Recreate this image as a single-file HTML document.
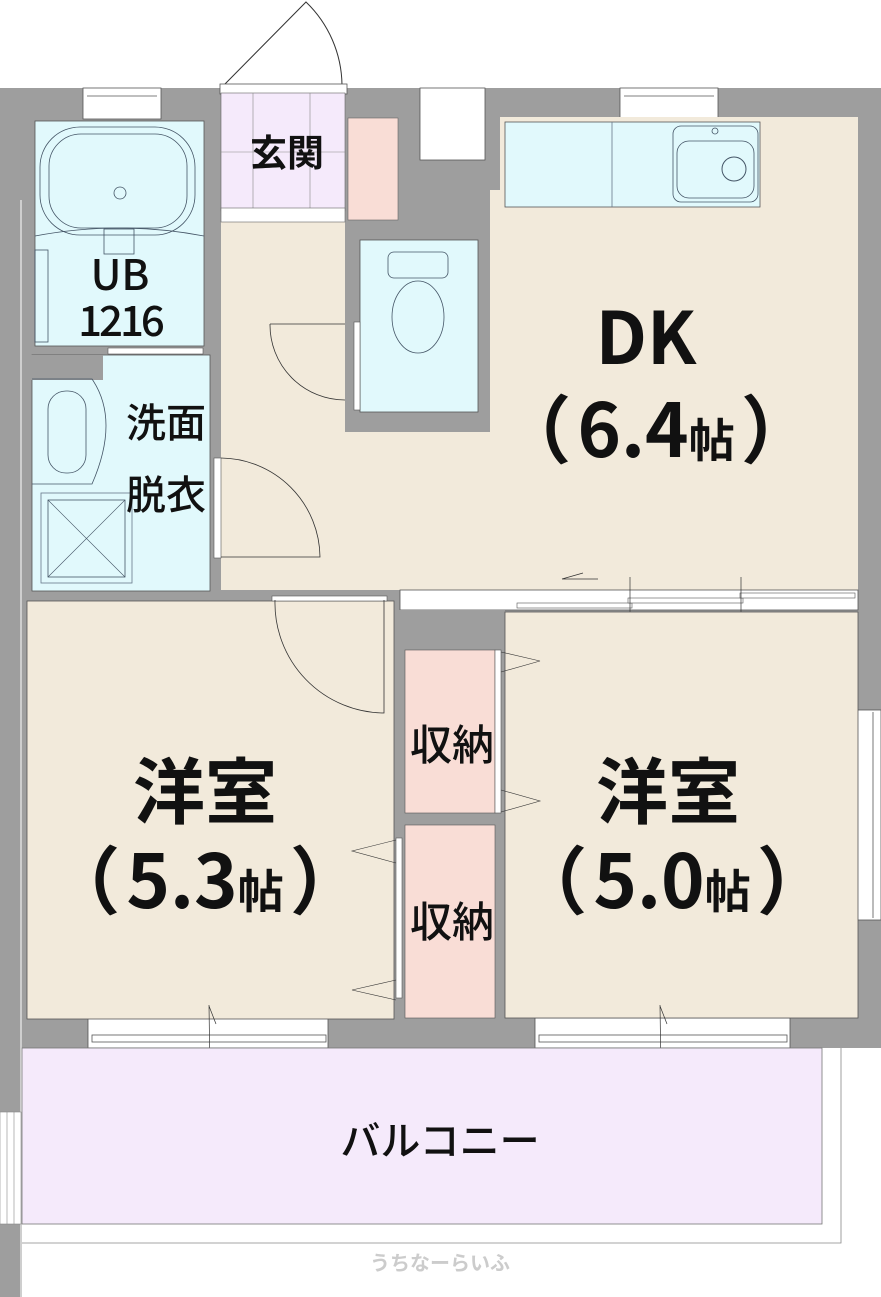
<!DOCTYPE html>
<html><head><meta charset="utf-8"><style>
html,body{margin:0;padding:0;background:#fff;}
svg{display:block;}
text{font-family:"Liberation Sans","Noto Sans CJK JP",sans-serif;fill:#111;}
.j{font-family:"Noto Sans CJK JP",sans-serif;}
</style></head><body>
<svg width="881" height="1297" viewBox="0 0 881 1297" xmlns="http://www.w3.org/2000/svg">
<rect x="0" y="88" width="881" height="960" fill="#9e9e9e"/>
<rect x="0" y="1048" width="22" height="249" fill="#9e9e9e"/>
<line x1="21" y1="200" x2="21" y2="1297" stroke="#fff" stroke-width="1"/>
<rect x="83" y="88" width="78" height="31" fill="#fff" stroke="#555" stroke-width="0.8"/>
<line x1="87" y1="96" x2="157" y2="96" stroke="#555" stroke-width="0.8"/>
<rect x="420" y="88" width="65" height="72" fill="#fff" stroke="#555" stroke-width="0.8"/>
<rect x="620" y="88" width="98" height="32" fill="#fff" stroke="#555" stroke-width="0.8"/>
<line x1="624" y1="96" x2="714" y2="96" stroke="#555" stroke-width="0.8"/>
<rect x="857" y="710" width="24" height="210" fill="#fff" stroke="#555" stroke-width="0.8"/>
<line x1="873" y1="712" x2="873" y2="918" stroke="#555" stroke-width="0.8"/>
<rect x="88" y="1018" width="240" height="30" fill="#fff" stroke="#555" stroke-width="0.8"/>
<rect x="92" y="1035" width="234" height="7" fill="#fff" stroke="#555" stroke-width="0.8"/>
<rect x="535" y="1018" width="255" height="30" fill="#fff" stroke="#555" stroke-width="0.8"/>
<rect x="539" y="1035" width="248" height="7" fill="#fff" stroke="#555" stroke-width="0.8"/>
<path d="M224 85 L306 2 A117 117 0 0 1 342 85" fill="none" stroke="#333" stroke-width="1"/>
<rect x="220" y="84" width="127" height="10" fill="#fff" stroke="#555" stroke-width="0.8"/>
<path d="M500 117 L858 117 L858 590 L221 590 L221 222 L345 222 L345 432 L490 432 L490 190 L500 190 Z" fill="#f2eadb"/>
<rect x="360" y="240" width="118" height="172" fill="#e1f9fc" stroke="#555" stroke-width="0.8"/>
<rect x="388" y="252" width="60" height="26" rx="6" fill="none" stroke="#456" stroke-width="0.8"/>
<ellipse cx="418" cy="317" rx="26" ry="36" fill="none" stroke="#456" stroke-width="0.8"/>
<rect x="354" y="322" width="6" height="88" fill="#fff" stroke="#555" stroke-width="0.6"/>
<path d="M270 324 L345 324 M270 324 A75 75 0 0 0 345 400" fill="none" stroke="#333" stroke-width="0.8"/>
<rect x="221" y="93" width="124" height="118" fill="#f5eafb" stroke="#666" stroke-width="0.6"/>
<line x1="253" y1="93" x2="253" y2="208" stroke="#888" stroke-width="0.6"/>
<line x1="310" y1="93" x2="310" y2="208" stroke="#888" stroke-width="0.6"/>
<line x1="221" y1="152" x2="345" y2="152" stroke="#888" stroke-width="0.6"/>
<rect x="221" y="208" width="124" height="14" fill="#fff" stroke="#666" stroke-width="0.6"/>
<rect x="348" y="118" width="50" height="102" fill="#f9ddd6" stroke="#666" stroke-width="0.6"/>
<rect x="505" y="122" width="255" height="85" fill="#e1f9fc" stroke="#555" stroke-width="0.8"/>
<line x1="612" y1="122" x2="612" y2="207" stroke="#678" stroke-width="0.8"/>
<rect x="673" y="126" width="85" height="76" rx="8" fill="none" stroke="#456" stroke-width="0.8"/>
<rect x="677" y="141" width="77" height="57" rx="12" fill="none" stroke="#456" stroke-width="0.8"/>
<circle cx="734" cy="169" r="12" fill="none" stroke="#456" stroke-width="1"/>
<circle cx="715" cy="131" r="3" fill="none" stroke="#456" stroke-width="0.8"/>
<rect x="35" y="121" width="169" height="225" fill="#e1f9fc" stroke="#555" stroke-width="0.8"/>
<rect x="40" y="127" width="155" height="108" rx="40" fill="none" stroke="#456" stroke-width="0.8"/>
<rect x="49" y="134" width="138" height="94" rx="32" fill="none" stroke="#456" stroke-width="0.8"/>
<circle cx="120" cy="193" r="6" fill="none" stroke="#456" stroke-width="0.8"/>
<path d="M35 236 Q120 220 204 236" fill="none" stroke="#456" stroke-width="0.8"/>
<rect x="104" y="229" width="30" height="25" fill="none" stroke="#456" stroke-width="0.8"/>
<rect x="35" y="250" width="13" height="92" fill="none" stroke="#456" stroke-width="0.8"/>
<rect x="108" y="348" width="95" height="6" fill="#fff" stroke="#555" stroke-width="0.6"/>
<rect x="32" y="355" width="178" height="236" fill="#e1f9fc" stroke="#555" stroke-width="0.8"/>
<rect x="31" y="355" width="72" height="25" fill="#9e9e9e"/>
<path d="M32 379 L92 379 Q120 420 92 484 L32 484" fill="none" stroke="#456" stroke-width="0.8"/>
<rect x="48" y="391" width="38" height="82" rx="18" fill="none" stroke="#456" stroke-width="0.8"/>
<rect x="41" y="493" width="91" height="90" fill="none" stroke="#678" stroke-width="0.8"/>
<rect x="48" y="500" width="77" height="77" fill="none" stroke="#456" stroke-width="0.8"/>
<path d="M48 500 L125 577 M125 500 L48 577" stroke="#456" stroke-width="0.6"/>
<rect x="214" y="458" width="7" height="100" fill="#fff" stroke="#555" stroke-width="0.6"/>
<path d="M221 458 A100 100 0 0 1 320 557 L221 557" fill="none" stroke="#333" stroke-width="0.8"/>
<rect x="27" y="601" width="367" height="418" fill="#f2eadb" stroke="#555" stroke-width="0.8"/>
<rect x="272" y="596" width="115" height="5" fill="#fff" stroke="#555" stroke-width="0.6"/>
<path d="M275 600 A110 110 0 0 0 384 713 L384 600" fill="none" stroke="#333" stroke-width="0.8"/>
<rect x="400" y="590" width="458" height="20" fill="#fff" stroke="#555" stroke-width="0.8"/>
<rect x="517" y="603" width="115" height="5" fill="#fff" stroke="#555" stroke-width="0.6"/>
<rect x="628" y="598" width="115" height="5" fill="#fff" stroke="#555" stroke-width="0.6"/>
<rect x="740" y="593" width="115" height="5" fill="#fff" stroke="#555" stroke-width="0.6"/>
<line x1="630" y1="577" x2="630" y2="622" stroke="#333" stroke-width="0.7"/>
<line x1="741" y1="577" x2="741" y2="622" stroke="#333" stroke-width="0.7"/>
<path d="M562 579 L583 573 M562 579 L598 579" stroke="#333" stroke-width="0.7"/>
<rect x="395" y="610" width="110" height="410" fill="#9e9e9e"/>
<rect x="405" y="650" width="90" height="163" fill="#f9ddd6" stroke="#555" stroke-width="0.6"/>
<rect x="405" y="825" width="90" height="193" fill="#f9ddd6" stroke="#555" stroke-width="0.6"/>
<rect x="495" y="650" width="6" height="163" fill="#fff" stroke="#555" stroke-width="0.6"/>
<rect x="396" y="838" width="6" height="160" fill="#fff" stroke="#555" stroke-width="0.6"/>
<rect x="505" y="612" width="353" height="406" fill="#f2eadb" stroke="#555" stroke-width="0.8"/>
<path d="M501 652 L540 661 L501 672 M501 790 L540 801 L501 812" fill="none" stroke="#333" stroke-width="0.6"/>
<path d="M396 840 L352 851 L396 863 M396 980 L352 990 L396 1000" fill="none" stroke="#333" stroke-width="0.6"/>
<path d="M209 1005 L210 1078 M209 1006 L216 1024 M210 1078 L203 1058" fill="none" stroke="#333" stroke-width="0.7"/>
<path d="M660 1005 L661 1078 M660 1006 L667 1024 M661 1078 L654 1058" fill="none" stroke="#333" stroke-width="0.7"/>
<rect x="22" y="1048" width="800" height="176" fill="#f5eafb" stroke="#777" stroke-width="0.8"/>
<path d="M22 1243 L841 1243 L841 1048" fill="none" stroke="#888" stroke-width="0.8"/>
<rect x="0" y="1112" width="21" height="112" fill="#fff" stroke="#888" stroke-width="0.6"/>
<line x1="7" y1="1112" x2="7" y2="1224" stroke="#888" stroke-width="0.6"/>
<line x1="14" y1="1112" x2="14" y2="1224" stroke="#888" stroke-width="0.6"/>
<text class="j" x="287" y="166" font-size="37" text-anchor="middle" font-weight="bold">玄関</text>
<text class="j" x="120" y="290" font-size="42" text-anchor="middle" font-weight="500">UB</text>
<text class="j" x="120" y="336" font-size="42" text-anchor="middle" font-weight="500" letter-spacing="-3">1216</text>
<text class="j" x="166" y="437" font-size="40" text-anchor="middle" font-weight="500">洗面</text>
<text class="j" x="166" y="509" font-size="40" text-anchor="middle" font-weight="500">脱衣</text>
<text class="j" x="646" y="364" font-size="72" text-anchor="middle" font-weight="bold">DK</text>
<text class="j" x="656" y="457" font-size="74" text-anchor="middle" font-weight="bold"><tspan>（</tspan><tspan dx="6">6.4</tspan><tspan font-size="46">帖</tspan><tspan dx="6">）</tspan></text>
<text class="j" x="205" y="818" font-size="72" text-anchor="middle" font-weight="bold">洋室</text>
<text class="j" x="205" y="908" font-size="74" text-anchor="middle" font-weight="bold"><tspan>（</tspan><tspan dx="6">5.3</tspan><tspan font-size="46">帖</tspan><tspan dx="6">）</tspan></text>
<text class="j" x="668" y="818" font-size="72" text-anchor="middle" font-weight="bold">洋室</text>
<text class="j" x="672" y="908" font-size="74" text-anchor="middle" font-weight="bold"><tspan>（</tspan><tspan dx="6">5.0</tspan><tspan font-size="46">帖</tspan><tspan dx="6">）</tspan></text>
<text class="j" x="452" y="760" font-size="42" text-anchor="middle" font-weight="500">収納</text>
<text class="j" x="452" y="937" font-size="42" text-anchor="middle" font-weight="500">収納</text>
<text class="j" x="440" y="1155" font-size="40" text-anchor="middle" font-weight="500">バルコニー</text>
<text class="j" x="440" y="1270" font-size="20" text-anchor="middle" style="fill:#ccc" font-weight="bold">うちなーらいふ</text>
</svg>
</body></html>
